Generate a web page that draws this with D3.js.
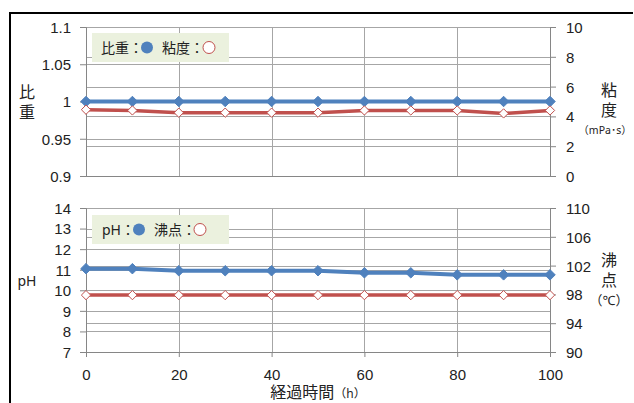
<!DOCTYPE html>
<html>
<head>
<meta charset="utf-8">
<script src="https://cdn.jsdelivr.net/npm/d3@7"></script>
<style>
  body { margin: 0; background: #fff; }
  svg { display: block; font-family: "Noto Sans", "Noto Sans CJK JP", sans-serif; }
  .tick text { fill: #222; font-size: 15px; }
</style>
</head>
<body>
<div id="chart"></div>
<script>
const width = 634, height = 403;

// data
const hours = [0, 10, 20, 30, 40, 50, 60, 70, 80, 90, 100];
const specificGravity = [1, 1, 1, 1, 1, 1, 1, 1, 1, 1, 1];
const viscosity = [4.45, 4.4, 4.25, 4.25, 4.25, 4.25, 4.4, 4.4, 4.4, 4.2, 4.4];
const ph = [11.05, 11.05, 10.95, 10.95, 10.95, 10.95, 10.85, 10.85, 10.75, 10.75, 10.75];
const boilingPoint = [97.9, 97.9, 97.9, 97.9, 97.9, 97.9, 97.9, 97.9, 97.9, 97.9, 97.9];
const xTicks = [0, 20, 40, 60, 80, 100];

const blue = "#4f81bd", red = "#c0504d", grid = "#a6a6a6";

const svg = d3.select("#chart").append("svg")
    .attr("width", width).attr("height", height);

// outer frame (cropped at right and bottom)
svg.append("path")
    .attr("d", `M10,${height} V13 H633`)
    .attr("fill", "none").attr("stroke", "#000").attr("stroke-width", 2);

const x = d3.scaleLinear().domain([0, 100]).range([86, 550]);

const panel = (opts) => {
    const yL = d3.scaleLinear().domain(opts.left).range([opts.y1, opts.y0]);
    const yR = d3.scaleLinear().domain(opts.right).range([opts.y1, opts.y0]);
    const g = svg.append("g");

    // gridlines
    const gl = g.append("g").attr("stroke", grid).attr("stroke-width", 1);
    d3.range(opts.left[0], opts.left[1] + 1e-9, opts.leftStep).forEach(v => {
        gl.append("line").attr("x1", 86).attr("x2", 550)
            .attr("y1", Math.round(yL(v)) + 0.5).attr("y2", Math.round(yL(v)) + 0.5);
    });
    d3.range(opts.right[0], opts.right[1] + 1e-9, opts.rightStep).forEach(v => {
        gl.append("line").attr("x1", 86).attr("x2", 550)
            .attr("y1", Math.round(yR(v)) + 0.5).attr("y2", Math.round(yR(v)) + 0.5);
    });
    xTicks.forEach(v => {
        gl.append("line").attr("x1", Math.round(x(v)) + 0.5).attr("x2", Math.round(x(v)) + 0.5)
            .attr("y1", opts.y0).attr("y2", opts.y1);
    });

    // axes
    const axL = g.append("g").attr("transform", "translate(86,0)")
        .call(d3.axisLeft(yL).tickValues(d3.range(opts.left[0], opts.left[1] + 1e-9, opts.leftStep))
            .tickSize(6).tickPadding(9).tickFormat(opts.leftFormat));
    const axR = g.append("g").attr("transform", "translate(550,0)")
        .call(d3.axisRight(yR).tickValues(d3.range(opts.right[0], opts.right[1] + 1e-9, opts.rightStep))
            .tickSize(6).tickPadding(10).tickFormat(d3.format("d")));
    [axL, axR].forEach(a => {
        a.select(".domain").attr("stroke", "#868686");
        a.selectAll(".tick line").attr("stroke", "#868686");
        a.selectAll(".tick text").attr("dy", "0.36em");
    });
    const axX = g.append("g").attr("transform", `translate(0,${opts.y1})`)
        .call(d3.axisBottom(x).tickValues(xTicks).tickSize(opts.xLabels ? 5 : 0)
            .tickPadding(12).tickFormat(opts.xLabels ? d3.format("d") : ""));
    axX.select(".domain").attr("stroke", "#868686");
    axX.selectAll(".tick line").attr("stroke", "#868686");

    // series
    const series = (vals, scale, color, filled, lw) => {
        const pts = hours.map((h, i) => [x(h), scale(vals[i])]);
        g.append("path").datum(pts)
            .attr("d", d3.line())
            .attr("fill", "none").attr("stroke", color).attr("stroke-width", lw);
        g.append("g").selectAll("path").data(pts).join("path")
            .attr("transform", d => `translate(${d[0]},${d[1]})`)
            .attr("d", d3.symbol(d3.symbolDiamond2, filled ? 70 : 55))
            .attr("fill", filled ? color : "#fff")
            .attr("stroke", color).attr("stroke-width", 1);
    };
    series(opts.leftVals, yL, blue, true, 4);
    series(opts.rightVals, yR, red, false, 3.5);

    // legend
    const lg = g.append("g");
    lg.append("rect").attr("x", 92).attr("y", opts.legendY).attr("width", 137).attr("height", 29)
        .attr("fill", "#ebf1de");
    const cy = opts.legendY + 14.5;
    lg.append("text").attr("x", opts.leg[0]).attr("y", cy).attr("dy", "0.36em")
        .attr("font-size", 14).attr("fill", "#222").text(opts.leftName + "：");
    lg.append("circle").attr("cx", opts.leg[1]).attr("cy", cy).attr("r", 6).attr("fill", blue);
    lg.append("text").attr("x", opts.leg[2]).attr("y", cy).attr("dy", "0.36em")
        .attr("font-size", 14).attr("fill", "#222").text(opts.rightName + "：");
    lg.append("circle").attr("cx", opts.leg[3]).attr("cy", cy).attr("r", 6)
        .attr("fill", "#fff").attr("stroke", red).attr("stroke-width", 1);

    // axis titles
    opts.leftTitle.forEach((t, i) => {
        g.append("text").attr("x", 27).attr("y", opts.leftTitleY + i * 20).attr("dy", "0.36em")
            .attr("text-anchor", "middle").attr("font-size", opts.leftTitleSize).attr("fill", "#222").text(t);
    });
    opts.rightTitle.forEach((t, i) => {
        const last = i === opts.rightTitle.length - 1;
        g.append("text").attr("x", last ? opts.unitX : 609).attr("y", opts.rightTitleY + i * 20).attr("dy", "0.36em")
            .attr("text-anchor", "middle").attr("font-size", last ? opts.unitSize : 16)
            .attr("fill", "#222").text(t);
    });
};

panel({
    y0: 27, y1: 176,
    left: [0.9, 1.1], leftStep: 0.05, leftFormat: d => d3.format("")(+d.toFixed(2)),
    right: [0, 10], rightStep: 2,
    leftVals: specificGravity, rightVals: viscosity,
    legendY: 33, leg: [101, 147, 162, 209],
    leftName: "比重", rightName: "粘度",
    leftTitle: ["比", "重"], leftTitleY: 92, leftTitleSize: 16,
    rightTitle: ["粘", "度", "（mPa･s）"], rightTitleY: 90, unitSize: 10.5, unitX: 605,
    xLabels: false
});

panel({
    y0: 208, y1: 352,
    left: [7, 14], leftStep: 1, leftFormat: d3.format("d"),
    right: [90, 110], rightStep: 4,
    leftVals: ph, rightVals: boilingPoint,
    legendY: 215, leg: [102, 139, 154, 200],
    leftName: "pH", rightName: "沸点",
    leftTitle: ["pH"], leftTitleY: 281, leftTitleSize: 14,
    rightTitle: ["沸", "点", "（℃）"], rightTitleY: 260, unitSize: 13, unitX: 609,
    xLabels: true
});

// x axis title
const xt = svg.append("text").attr("x", 318).attr("y", 392).attr("dy", "0.36em")
    .attr("text-anchor", "middle").attr("fill", "#222");
xt.append("tspan").attr("font-size", 16).text("経過時間");
xt.append("tspan").attr("font-size", 12).text("（h）");
</script>
</body>
</html>
